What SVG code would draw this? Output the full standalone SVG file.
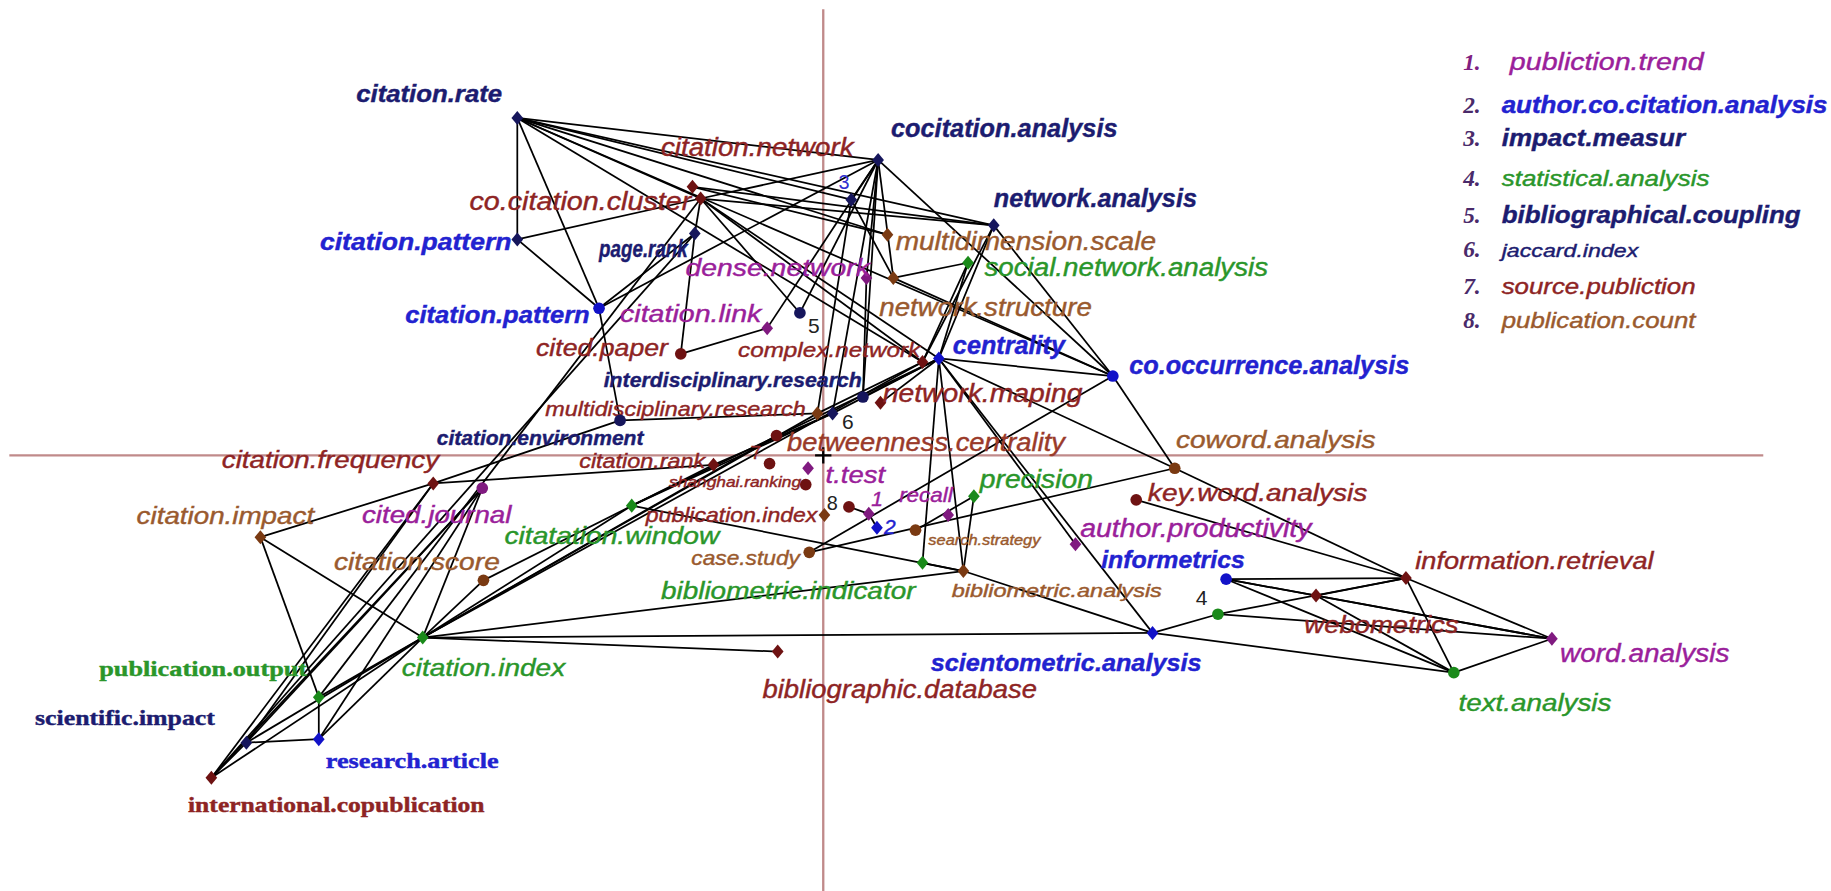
<svg xmlns="http://www.w3.org/2000/svg" width="1831" height="891" viewBox="0 0 1831 891">
<style>
text{font-family:"Liberation Sans",Arial,sans-serif;font-style:italic;stroke-width:0.35}
.b{font-weight:bold}
.sf{font-family:"Liberation Serif","Times New Roman",serif;font-style:normal;font-weight:bold}
.num{font-family:"Liberation Serif","Times New Roman",serif;font-style:italic;font-weight:bold;fill:#4a2a6a}
.plain{font-style:normal;fill:#222}
.nv{fill:#1c1c70;stroke:#1c1c70}.bl{fill:#2222d0;stroke:#2222d0}.rd{fill:#8e2424;stroke:#8e2424}.br{fill:#9a5a2e;stroke:#9a5a2e}.pu{fill:#9a209a;stroke:#9a209a}.gr{fill:#2a962a;stroke:#2a962a}
.mnv{fill:#16165c}.mbl{fill:#1212c8}.mrd{fill:#6e1212}.mbr{fill:#7a3a12}.mpu{fill:#801a80}.mgr{fill:#1a8a1a}
.edges line{stroke:#000;stroke-width:1.5}
.axis{stroke:#c08a8a;stroke-width:2}
</style>
<defs>
<path id="dm" d="M0,-6L5,0L0,6L-5,0Z"/>
<circle id="ci" r="5"/>
</defs>
<rect width="1831" height="891" fill="#fff"/>
<g transform="scale(1.16773)">
<g id="axes">
<line class="axis" x1="8" y1="390" x2="1510" y2="390"/>
<line class="axis" x1="705" y1="8" x2="705" y2="763"/>
<path d="M698,390H712M705,383V397" stroke="#000" stroke-width="2"/>
</g>
<g id="connectors" class="edges">
<line x1="443" y1="101" x2="443" y2="205"/>
<line x1="443" y1="101" x2="513" y2="264"/>
<line x1="443" y1="101" x2="752" y2="137"/>
<line x1="443" y1="101" x2="729" y2="171"/>
<line x1="443" y1="101" x2="851" y2="193"/>
<line x1="443" y1="101" x2="600" y2="170"/>
<line x1="443" y1="101" x2="760" y2="201"/>
<line x1="443" y1="101" x2="953" y2="322"/>
<line x1="443" y1="101" x2="790" y2="310"/>
<line x1="443" y1="205" x2="600" y2="170"/>
<line x1="443" y1="205" x2="513" y2="264"/>
<line x1="513" y1="264" x2="595" y2="200"/>
<line x1="513" y1="264" x2="531" y2="360"/>
<line x1="752" y1="137" x2="513" y2="264"/>
<line x1="595" y1="200" x2="600" y2="170"/>
<line x1="595" y1="200" x2="583" y2="303"/>
<line x1="595" y1="200" x2="181" y2="666"/>
<line x1="600" y1="170" x2="752" y2="137"/>
<line x1="600" y1="170" x2="851" y2="193"/>
<line x1="593" y1="160" x2="851" y2="193"/>
<line x1="593" y1="160" x2="760" y2="201"/>
<line x1="600" y1="170" x2="804" y2="307"/>
<line x1="600" y1="170" x2="685" y2="268"/>
<line x1="600" y1="170" x2="273" y2="597"/>
<line x1="600" y1="170" x2="790" y2="310"/>
<line x1="752" y1="137" x2="729" y2="171"/>
<line x1="752" y1="137" x2="685" y2="268"/>
<line x1="752" y1="137" x2="742" y2="238"/>
<line x1="752" y1="137" x2="765" y2="238"/>
<line x1="752" y1="137" x2="953" y2="322"/>
<line x1="752" y1="137" x2="657" y2="281"/>
<line x1="752" y1="137" x2="739" y2="340"/>
<line x1="752" y1="137" x2="713" y2="354"/>
<line x1="729" y1="171" x2="765" y2="238"/>
<line x1="729" y1="171" x2="700" y2="354"/>
<line x1="851" y1="193" x2="804" y2="307"/>
<line x1="851" y1="193" x2="790" y2="310"/>
<line x1="851" y1="193" x2="953" y2="322"/>
<line x1="829" y1="225" x2="804" y2="307"/>
<line x1="829" y1="225" x2="790" y2="310"/>
<line x1="765" y1="238" x2="829" y2="225"/>
<line x1="765" y1="238" x2="953" y2="322"/>
<line x1="742" y1="238" x2="739" y2="340"/>
<line x1="657" y1="281" x2="583" y2="303"/>
<line x1="804" y1="307" x2="953" y2="322"/>
<line x1="804" y1="307" x2="1006" y2="401"/>
<line x1="804" y1="307" x2="921" y2="466"/>
<line x1="804" y1="307" x2="987" y2="542"/>
<line x1="804" y1="307" x2="825" y2="489"/>
<line x1="804" y1="307" x2="790" y2="482"/>
<line x1="804" y1="307" x2="739" y2="340"/>
<line x1="804" y1="307" x2="713" y2="354"/>
<line x1="804" y1="307" x2="754" y2="345"/>
<line x1="790" y1="310" x2="700" y2="354"/>
<line x1="790" y1="310" x2="362" y2="546"/>
<line x1="665" y1="373" x2="362" y2="546"/>
<line x1="804" y1="307" x2="541" y2="433"/>
<line x1="713" y1="354" x2="541" y2="433"/>
<line x1="700" y1="354" x2="362" y2="546"/>
<line x1="611" y1="398" x2="713" y2="354"/>
<line x1="611" y1="398" x2="371" y2="414"/>
<line x1="414" y1="497" x2="611" y2="398"/>
<line x1="414" y1="497" x2="362" y2="546"/>
<line x1="541" y1="433" x2="362" y2="546"/>
<line x1="541" y1="433" x2="825" y2="489"/>
<line x1="362" y1="546" x2="223" y2="460"/>
<line x1="362" y1="546" x2="273" y2="597"/>
<line x1="362" y1="546" x2="181" y2="666"/>
<line x1="362" y1="546" x2="211" y2="636"/>
<line x1="362" y1="546" x2="273" y2="633"/>
<line x1="362" y1="546" x2="666" y2="558"/>
<line x1="362" y1="546" x2="987" y2="542"/>
<line x1="362" y1="546" x2="825" y2="489"/>
<line x1="362" y1="546" x2="413" y2="418"/>
<line x1="223" y1="460" x2="371" y2="414"/>
<line x1="223" y1="460" x2="273" y2="597"/>
<line x1="371" y1="414" x2="531" y2="360"/>
<line x1="371" y1="414" x2="181" y2="666"/>
<line x1="371" y1="414" x2="211" y2="636"/>
<line x1="413" y1="418" x2="181" y2="666"/>
<line x1="413" y1="418" x2="211" y2="636"/>
<line x1="413" y1="418" x2="273" y2="633"/>
<line x1="211" y1="636" x2="273" y2="633"/>
<line x1="211" y1="636" x2="181" y2="666"/>
<line x1="273" y1="633" x2="273" y2="597"/>
<line x1="531" y1="360" x2="700" y2="354"/>
<line x1="727" y1="434" x2="744" y2="440"/>
<line x1="744" y1="440" x2="751" y2="452"/>
<line x1="693" y1="473" x2="953" y2="322"/>
<line x1="693" y1="473" x2="1006" y2="401"/>
<line x1="784" y1="454" x2="834" y2="425"/>
<line x1="834" y1="425" x2="825" y2="489"/>
<line x1="790" y1="482" x2="825" y2="489"/>
<line x1="825" y1="489" x2="987" y2="542"/>
<line x1="953" y1="322" x2="1006" y2="401"/>
<line x1="973" y1="428" x2="1204" y2="495"/>
<line x1="1006" y1="401" x2="1204" y2="495"/>
<line x1="1050" y1="496" x2="1204" y2="495"/>
<line x1="1050" y1="496" x2="1127" y2="510"/>
<line x1="1050" y1="496" x2="1329" y2="547"/>
<line x1="1050" y1="496" x2="1245" y2="576"/>
<line x1="1043" y1="526" x2="1204" y2="495"/>
<line x1="1043" y1="526" x2="1329" y2="547"/>
<line x1="1043" y1="526" x2="987" y2="542"/>
<line x1="1127" y1="510" x2="1204" y2="495"/>
<line x1="1127" y1="510" x2="1329" y2="547"/>
<line x1="1127" y1="510" x2="1245" y2="576"/>
<line x1="1204" y1="495" x2="1245" y2="576"/>
<line x1="1204" y1="495" x2="1329" y2="547"/>
<line x1="1245" y1="576" x2="1329" y2="547"/>
<line x1="987" y1="542" x2="1245" y2="576"/>
</g>
<g id="n-citation-rate"><use href="#dm" x="443" y="101" class="mnv"/><text class="nv b" x="305" y="87" font-size="21" textLength="125" lengthAdjust="spacingAndGlyphs">citation.rate</text></g>
<g id="n-cocitation-analysis"><use href="#dm" x="752" y="137" class="mnv"/><text class="nv b" x="763" y="117" font-size="22" textLength="194" lengthAdjust="spacingAndGlyphs">cocitation.analysis</text></g>
<g id="n-citation-network"><use href="#dm" x="593" y="160" class="mrd"/><text class="rd" x="566" y="134" font-size="22" textLength="165" lengthAdjust="spacingAndGlyphs">citation.network</text></g>
<g id="n-co-citation-cluster"><use href="#dm" x="600" y="170" class="mrd"/><text class="rd" x="402" y="180" font-size="22" textLength="190" lengthAdjust="spacingAndGlyphs">co.citation.cluster</text></g>
<g id="n-network-analysis"><use href="#dm" x="851" y="193" class="mnv"/><text class="nv b" x="851" y="177" font-size="22" textLength="174" lengthAdjust="spacingAndGlyphs">network.analysis</text></g>
<g id="n-citation-pattern-1"><use href="#dm" x="443" y="205" class="mnv"/><text class="bl b" x="274" y="214" font-size="21" textLength="164" lengthAdjust="spacingAndGlyphs">citation.pattern</text></g>
<g id="n-page-rank"><use href="#dm" x="595" y="200" class="mnv"/><text class="nv b" x="513" y="220" font-size="20" textLength="76" lengthAdjust="spacingAndGlyphs">page.rank</text></g>
<g id="n-impact-measur"><use href="#dm" x="729" y="171" class="mnv"/><text class="plain" x="718" y="162" font-size="17" style="fill:#3030d0">3</text></g>
<g id="n-multidimension-scale"><use href="#dm" x="760" y="201" class="mbr"/><text class="br" x="767" y="214" font-size="22" textLength="223" lengthAdjust="spacingAndGlyphs">multidimension.scale</text></g>
<g id="n-dense-network"><use href="#dm" x="742" y="238" class="mpu"/><text class="pu" x="587" y="236" font-size="21" textLength="158" lengthAdjust="spacingAndGlyphs">dense.network</text></g>
<g id="n-social-network-analysis"><use href="#dm" x="829" y="225" class="mgr"/><text class="gr" x="843" y="236" font-size="22" textLength="243" lengthAdjust="spacingAndGlyphs">social.network.analysis</text></g>
<g id="n-network-structure"><use href="#dm" x="765" y="238" class="mbr"/><text class="br" x="753" y="271" font-size="22" textLength="182" lengthAdjust="spacingAndGlyphs">network.structure</text></g>
<g id="n-citation-pattern-2"><use href="#ci" x="513" y="264" class="mbl"/><text class="bl b" x="347" y="277" font-size="21" textLength="158" lengthAdjust="spacingAndGlyphs">citation.pattern</text></g>
<g id="n-citation-link"><use href="#dm" x="657" y="281" class="mpu"/><text class="pu" x="531" y="276" font-size="21" textLength="121" lengthAdjust="spacingAndGlyphs">citation.link</text></g>
<g id="n-bibliographical-coupling"><use href="#ci" x="685" y="268" class="mnv"/><text class="plain" x="692" y="285" font-size="18">5</text></g>
<g id="n-cited-paper"><use href="#ci" x="583" y="303" class="mrd"/><text class="rd" x="459" y="305" font-size="20" textLength="113" lengthAdjust="spacingAndGlyphs">cited.paper</text></g>
<g id="n-complex-network"><use href="#dm" x="790" y="310" class="mrd"/><text class="rd" x="632" y="306" font-size="18" textLength="156" lengthAdjust="spacingAndGlyphs">complex.network</text></g>
<g id="n-centrality"><use href="#dm" x="804" y="307" class="mbl"/><text class="bl b" x="816" y="303" font-size="22" textLength="96" lengthAdjust="spacingAndGlyphs">centrality</text></g>
<g id="n-co-occurrence-analysis"><use href="#ci" x="953" y="322" class="mbl"/><text class="bl b" x="967" y="320" font-size="22" textLength="240" lengthAdjust="spacingAndGlyphs">co.occurrence.analysis</text></g>
<g id="n-interdisciplinary-research"><use href="#ci" x="739" y="340" class="mnv"/><text class="nv b" x="517" y="331" font-size="17" textLength="221" lengthAdjust="spacingAndGlyphs">interdisciplinary.research</text></g>
<g id="n-multidisciplinary-research"><use href="#dm" x="700" y="354" class="mbr"/><text class="rd" x="467" y="356" font-size="18" textLength="223" lengthAdjust="spacingAndGlyphs">multidisciplinary.research</text></g>
<g id="n-jaccard-index"><use href="#dm" x="713" y="354" class="mnv"/><text class="plain" x="721" y="367" font-size="18">6</text></g>
<g id="n-network-maping"><use href="#dm" x="754" y="345" class="mrd"/><text class="rd" x="756" y="344" font-size="22" textLength="171" lengthAdjust="spacingAndGlyphs">network.maping</text></g>
<g id="n-citation-environment"><use href="#ci" x="531" y="360" class="mnv"/><text class="nv b" x="374" y="381" font-size="17" textLength="177" lengthAdjust="spacingAndGlyphs">citation.environment</text></g>
<g id="n-betweenness-centrality"><use href="#ci" x="665" y="373" class="mrd"/><text x="674" y="386" font-size="22" textLength="238" lengthAdjust="spacingAndGlyphs" style="fill:#9a3a2a;stroke:#9a3a2a">betweenness.centrality</text></g>
<g id="n-citation-frequency"><use href="#dm" x="371" y="414" class="mrd"/><text class="rd" x="190" y="401" font-size="21" textLength="186" lengthAdjust="spacingAndGlyphs">citation.frequency</text></g>
<g id="n-citation-rank"><use href="#dm" x="611" y="398" class="mrd"/><text class="rd" x="496" y="401" font-size="17" textLength="108" lengthAdjust="spacingAndGlyphs">citation.rank</text></g>
<g id="n-source-publiction"><use href="#ci" x="659" y="397" class="mrd"/><text class="rd" x="643" y="393" font-size="16" style="font-style:normal">7</text></g>
<g id="n-shanghai-ranking"><use href="#ci" x="690" y="415" class="mrd"/><text class="rd" x="573" y="417" font-size="12" textLength="113" lengthAdjust="spacingAndGlyphs">shanghai.ranking</text></g>
<g id="n-t-test"><use href="#dm" x="692" y="401" class="mpu"/><text class="pu" x="707" y="414" font-size="21" textLength="51" lengthAdjust="spacingAndGlyphs">t.test</text></g>
<g id="n-cited-journal"><use href="#ci" x="413" y="418" class="mpu"/><text class="pu" x="310" y="448" font-size="21" textLength="128" lengthAdjust="spacingAndGlyphs">cited.journal</text></g>
<g id="n-citation-impact"><use href="#dm" x="223" y="460" class="mbr"/><text class="br" x="117" y="449" font-size="21" textLength="152" lengthAdjust="spacingAndGlyphs">citation.impact</text></g>
<g id="n-publication-index"><use href="#dm" x="706" y="441" class="mbr"/><text class="rd" x="553" y="447" font-size="17" textLength="147" lengthAdjust="spacingAndGlyphs">publication.index</text></g>
<g id="n-publication-count"><use href="#ci" x="727" y="434" class="mrd"/><text class="plain" x="708" y="437" font-size="17">8</text></g>
<g id="n-publiction-trend"><use href="#dm" x="744" y="440" class="mpu"/><text class="pu" x="746" y="433" font-size="18">1</text></g>
<g id="n-author-co-citation-analysis"><use href="#dm" x="751" y="452" class="mbl"/><text class="bl" x="757" y="457" font-size="18">2</text></g>
<g id="n-recall"><use href="#dm" x="812" y="441" class="mpu"/><text class="pu" x="770" y="430" font-size="18" textLength="46" lengthAdjust="spacingAndGlyphs">recall</text></g>
<g id="n-precision"><use href="#dm" x="834" y="425" class="mgr"/><text class="gr" x="839" y="418" font-size="22" textLength="97" lengthAdjust="spacingAndGlyphs">precision</text></g>
<g id="n-citatation-window"><use href="#dm" x="541" y="433" class="mgr"/><text class="gr" x="432" y="466" font-size="21" textLength="184" lengthAdjust="spacingAndGlyphs">citatation.window</text></g>
<g id="n-case-study"><use href="#ci" x="693" y="473" class="mbr"/><text class="br" x="592" y="484" font-size="17" textLength="93" lengthAdjust="spacingAndGlyphs">case.study</text></g>
<g id="n-search-strategy"><use href="#ci" x="784" y="454" class="mbr"/><text class="br" x="795" y="467" font-size="12" textLength="96" lengthAdjust="spacingAndGlyphs">search.strategy</text></g>
<g id="n-key-word-analysis"><use href="#ci" x="973" y="428" class="mrd"/><text class="rd" x="983" y="429" font-size="21" textLength="188" lengthAdjust="spacingAndGlyphs">key.word.analysis</text></g>
<g id="n-coword-analysis"><use href="#ci" x="1006" y="401" class="mbr"/><text class="br" x="1007" y="384" font-size="21" textLength="171" lengthAdjust="spacingAndGlyphs">coword.analysis</text></g>
<g id="n-author-productivity"><use href="#dm" x="921" y="466" class="mpu"/><text class="pu" x="925" y="460" font-size="22" textLength="198" lengthAdjust="spacingAndGlyphs">author.productivity</text></g>
<g id="n-informetrics"><use href="#ci" x="1050" y="496" class="mbl"/><text class="bl b" x="943" y="486" font-size="21" textLength="123" lengthAdjust="spacingAndGlyphs">informetrics</text></g>
<g id="n-citation-score"><use href="#ci" x="414" y="497" class="mbr"/><text class="br" x="286" y="488" font-size="21" textLength="142" lengthAdjust="spacingAndGlyphs">citation.score</text></g>
<g id="n-bibliometric-indicator"><use href="#dm" x="790" y="482" class="mgr"/><text class="gr" x="566" y="513" font-size="21" textLength="218" lengthAdjust="spacingAndGlyphs">bibliometric.indicator</text></g>
<g id="n-bibliometric-analysis"><use href="#dm" x="825" y="489" class="mbr"/><text class="br" x="815" y="511" font-size="15" textLength="180" lengthAdjust="spacingAndGlyphs">bibliometric.analysis</text></g>
<g id="n-information-retrieval"><use href="#dm" x="1204" y="495" class="mrd"/><text class="rd" x="1212" y="487" font-size="21" textLength="204" lengthAdjust="spacingAndGlyphs">information.retrieval</text></g>
<g id="n-statistical-analysis"><use href="#ci" x="1043" y="526" class="mgr"/><text class="plain" x="1024" y="518" font-size="18">4</text></g>
<g id="n-webometrics"><use href="#dm" x="1127" y="510" class="mrd"/><text class="rd" x="1117" y="542" font-size="20" textLength="132" lengthAdjust="spacingAndGlyphs">webometrics</text></g>
<g id="n-scientometric-analysis"><use href="#dm" x="987" y="542" class="mbl"/><text class="bl b" x="797" y="575" font-size="21" textLength="232" lengthAdjust="spacingAndGlyphs">scientometric.analysis</text></g>
<g id="n-word-analysis"><use href="#dm" x="1329" y="547" class="mpu"/><text class="pu" x="1336" y="567" font-size="22" textLength="145" lengthAdjust="spacingAndGlyphs">word.analysis</text></g>
<g id="n-text-analysis"><use href="#ci" x="1245" y="576" class="mgr"/><text class="gr" x="1249" y="609" font-size="21" textLength="131" lengthAdjust="spacingAndGlyphs">text.analysis</text></g>
<g id="n-citation-index"><use href="#dm" x="362" y="546" class="mgr"/><text class="gr" x="344" y="579" font-size="21" textLength="140" lengthAdjust="spacingAndGlyphs">citation.index</text></g>
<g id="n-bibliographic-database"><use href="#dm" x="666" y="558" class="mrd"/><text class="rd" x="653" y="598" font-size="22" textLength="235" lengthAdjust="spacingAndGlyphs">bibliographic.database</text></g>
<g id="n-publication-output"><use href="#dm" x="273" y="597" class="mgr"/><text class="gr sf" x="85" y="579" font-size="18" textLength="178" lengthAdjust="spacingAndGlyphs">publication.output</text></g>
<g id="n-scientific-impact"><use href="#dm" x="211" y="636" class="mnv"/><text class="nv sf" x="30" y="621" font-size="18" textLength="154" lengthAdjust="spacingAndGlyphs">scientific.impact</text></g>
<g id="n-research-article"><use href="#dm" x="273" y="633" class="mbl"/><text class="bl sf" x="279" y="658" font-size="18" textLength="148" lengthAdjust="spacingAndGlyphs">research.article</text></g>
<g id="n-international-copublication"><use href="#dm" x="181" y="666" class="mrd"/><text class="rd sf" x="161" y="695" font-size="18" textLength="254" lengthAdjust="spacingAndGlyphs">international.copublication</text></g>
<g id="legend">
<text class="num" x="1253" y="60" font-size="20" style="fill:#802080">1.</text><text class="pu" x="1293" y="60" font-size="20" textLength="166" lengthAdjust="spacingAndGlyphs">publiction.trend</text>
<text class="num" x="1253" y="97" font-size="20">2.</text><text class="bl b" x="1286" y="97" font-size="20" textLength="279" lengthAdjust="spacingAndGlyphs">author.co.citation.analysis</text>
<text class="num" x="1253" y="125" font-size="20">3.</text><text class="nv b" x="1286" y="125" font-size="20" textLength="157" lengthAdjust="spacingAndGlyphs">impact.measur</text>
<text class="num" x="1253" y="159" font-size="20">4.</text><text class="gr" x="1286" y="159" font-size="19" textLength="178" lengthAdjust="spacingAndGlyphs">statistical.analysis</text>
<text class="num" x="1253" y="191" font-size="20">5.</text><text class="nv b" x="1286" y="191" font-size="21" textLength="256" lengthAdjust="spacingAndGlyphs">bibliographical.coupling</text>
<text class="num" x="1253" y="220" font-size="20">6.</text><text class="nv" x="1286" y="220" font-size="16" textLength="117" lengthAdjust="spacingAndGlyphs">jaccard.index</text>
<text class="num" x="1253" y="252" font-size="20">7.</text><text class="rd" x="1286" y="252" font-size="19" textLength="166" lengthAdjust="spacingAndGlyphs">source.publiction</text>
<text class="num" x="1253" y="281" font-size="20">8.</text><text class="br" x="1286" y="281" font-size="19" textLength="166" lengthAdjust="spacingAndGlyphs">publication.count</text>
</g>
</g>
</svg>
